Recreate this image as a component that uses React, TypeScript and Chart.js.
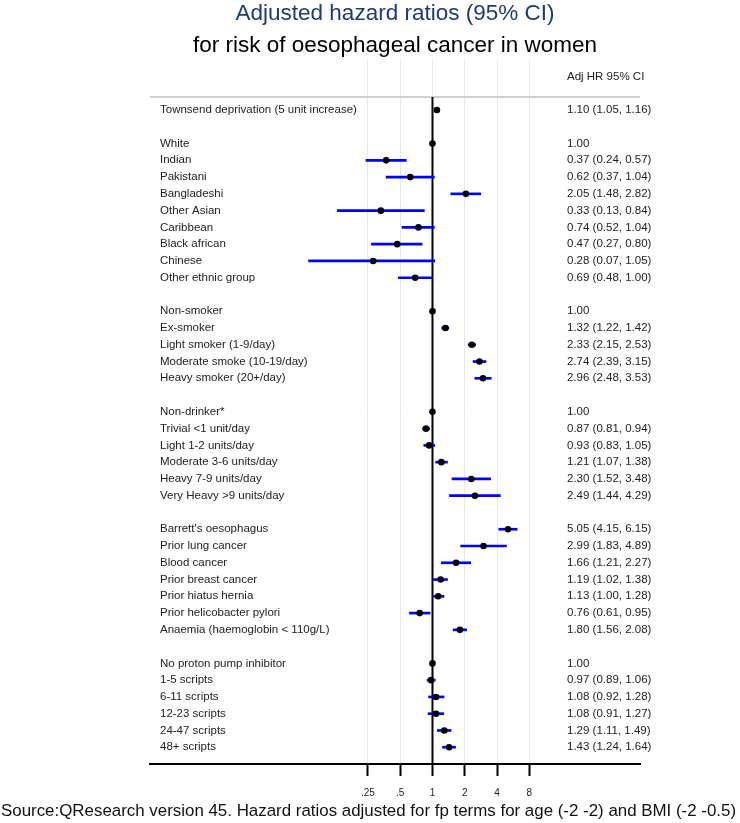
import { useEffect, useRef } from 'react';
import { Chart, registerables } from 'chart.js';

Chart.register(...registerables);

const TITLE_LINE_1 = 'Adjusted hazard ratios (95% CI)';
const TITLE_LINE_2 = 'for risk of oesophageal cancer in women';
const FOOTNOTE = 'Source:QResearch version 45. Hazard ratios adjusted for fp terms for age (-2 -2) and BMI (-2 -0.5)';
const COLUMN_HEADER = 'Adj HR 95% CI';

const categories: string[] = [
  'Townsend deprivation (5 unit increase)',
  '',
  'White',
  'Indian',
  'Pakistani',
  'Bangladeshi',
  'Other Asian',
  'Caribbean',
  'Black african',
  'Chinese',
  'Other ethnic group',
  '',
  'Non-smoker',
  'Ex-smoker',
  'Light smoker (1-9/day)',
  'Moderate smoke (10-19/day)',
  'Heavy smoker (20+/day)',
  '',
  'Non-drinker*',
  'Trivial <1 unit/day',
  'Light 1-2 units/day',
  'Moderate 3-6 units/day',
  'Heavy 7-9 units/day',
  'Very Heavy >9 units/day',
  '',
  "Barrett's oesophagus",
  'Prior lung cancer',
  'Blood cancer',
  'Prior breast cancer',
  'Prior hiatus hernia',
  'Prior helicobacter pylori',
  'Anaemia (haemoglobin < 110g/L)',
  '',
  'No proton pump inhibitor',
  '1-5 scripts',
  '6-11 scripts',
  '12-23 scripts',
  '24-47 scripts',
  '48+ scripts',
];

const hazardRatios: (number | null)[] = [
  1.10, null,
  1.00, 0.37, 0.62, 2.05, 0.33, 0.74, 0.47, 0.28, 0.69, null,
  1.00, 1.32, 2.33, 2.74, 2.96, null,
  1.00, 0.87, 0.93, 1.21, 2.30, 2.49, null,
  5.05, 2.99, 1.66, 1.19, 1.13, 0.76, 1.80, null,
  1.00, 0.97, 1.08, 1.08, 1.29, 1.43,
];

const ciLower: (number | null)[] = [
  1.05, null,
  null, 0.24, 0.37, 1.48, 0.13, 0.52, 0.27, 0.07, 0.48, null,
  null, 1.22, 2.15, 2.39, 2.48, null,
  null, 0.81, 0.83, 1.07, 1.52, 1.44, null,
  4.15, 1.83, 1.21, 1.02, 1.00, 0.61, 1.56, null,
  null, 0.89, 0.92, 0.91, 1.11, 1.24,
];

const ciUpper: (number | null)[] = [
  1.16, null,
  null, 0.57, 1.04, 2.82, 0.84, 1.04, 0.80, 1.05, 1.00, null,
  null, 1.42, 2.53, 3.15, 3.53, null,
  null, 0.94, 1.05, 1.38, 3.48, 4.29, null,
  6.15, 4.89, 2.27, 1.38, 1.28, 0.95, 2.08, null,
  null, 1.06, 1.28, 1.27, 1.49, 1.64,
];

const xTickValues = [0.25, 0.5, 1, 2, 4, 8];
const xTickLabels = ['.25', '.5', '1', '2', '4', '8'];

// axis geometry
const X_MIN = 0.00233;
const X_MAX = 85.9;
const Y_MIN = -2.983;
const Y_MAX = 39.0;
const HEADER_ROW = -2;
const TOP_RULE_ROW = -0.78;
const REFERENCE_HR = 1;

const FONT = "Arial, 'Liberation Sans', Helvetica, sans-serif";

function fmt(v: number) {
  return v.toFixed(2);
}

export default function App() {
  const ref = useRef<HTMLCanvasElement | null>(null);

  useEffect(() => {
    const canvas = ref.current;
    if (!canvas) return;

    const rows = categories.map((_, i) => i);
    const pointData = rows
      .filter((i) => hazardRatios[i] != null)
      .map((i) => ({ x: hazardRatios[i] as number, y: i }));
    const ciData = rows
      .filter((i) => ciLower[i] != null && ciUpper[i] != null)
      .map((i) => ({ x: [ciLower[i] as number, ciUpper[i] as number], y: i }));
    const rightLabels = rows.map((i) => {
      const hr = hazardRatios[i];
      if (hr == null) return '';
      const lo = ciLower[i];
      const hi = ciUpper[i];
      if (lo == null || hi == null) return fmt(hr);
      return `${fmt(hr)} (${fmt(lo)}, ${fmt(hi)})`;
    });
    const rightValues = [HEADER_ROW, ...rows];
    const rightTexts = [COLUMN_HEADER, ...rightLabels];

    const zeroPad = (s: any) => {
      s.paddingTop = 0;
      s.paddingBottom = 0;
      s.paddingLeft = 0;
      s.paddingRight = 0;
    };

    const chart = new Chart(canvas, {
      type: 'scatter',
      data: {
        datasets: [
          {
            type: 'scatter',
            label: 'HR',
            data: pointData,
            pointRadius: 3.3,
            pointBackgroundColor: '#000000',
            pointBorderWidth: 0,
            order: 0,
          } as any,
          {
            type: 'bar',
            label: 'CI',
            indexAxis: 'y',
            data: ciData,
            backgroundColor: '#0000ff',
            borderWidth: 0,
            barThickness: 2,
            order: 1,
          } as any,
          {
            type: 'line',
            label: 'ref',
            data: [
              { x: REFERENCE_HR, y: TOP_RULE_ROW },
              { x: REFERENCE_HR, y: Y_MAX },
            ],
            borderColor: '#000000',
            borderWidth: 2,
            pointRadius: 0,
            order: 2,
          } as any,
          {
            type: 'line',
            label: 'rule',
            data: [
              { x: X_MIN, y: TOP_RULE_ROW },
              { x: X_MAX, y: TOP_RULE_ROW },
            ],
            borderColor: '#cfcfcf',
            borderWidth: 2,
            pointRadius: 0,
            order: 3,
          } as any,
        ],
      },
      options: {
        animation: false,
        responsive: false,
        events: [],
        layout: { padding: { left: 150, right: 100, top: 60, bottom: 19 } },
        plugins: {
          legend: { display: false },
          tooltip: { enabled: false },
          title: { display: false },
        },
        scales: {
          x: {
            type: 'logarithmic',
            position: 'bottom',
            min: X_MIN,
            max: X_MAX,
            offset: false,
            afterBuildTicks: (s: any) => {
              s.ticks = xTickValues.map((v) => ({ value: v }));
            },
            afterFit: (s: any) => {
              s.height = 40;
              zeroPad(s);
            },
            ticks: {
              autoSkip: false,
              maxRotation: 0,
              padding: 11,
              color: '#222222',
              font: { family: FONT, size: 10 },
              callback: (_v: any, i: number) => xTickLabels[i],
            },
            grid: {
              color: '#e2eaf0',
              lineWidth: 1,
              offset: false,
              drawTicks: true,
              tickLength: 12,
              tickColor: '#000000',
              tickWidth: 2,
            },
            border: { display: true, color: '#000000', width: 2 },
          } as any,
          y: {
            type: 'linear',
            position: 'left',
            reverse: true,
            offset: false,
            min: Y_MIN,
            max: Y_MAX,
            afterBuildTicks: (s: any) => {
              s.ticks = rows.map((v) => ({ value: v }));
            },
            afterFit: (s: any) => {
              s.width = 0;
              zeroPad(s);
            },
            ticks: {
              mirror: true,
              crossAlign: 'near',
              padding: 10,
              autoSkip: false,
              color: '#222222',
              font: { family: FONT, size: 11.5 },
              callback: (_v: any, i: number) => categories[i],
            },
            grid: { display: false, drawTicks: false, offset: false },
            border: { display: false },
          } as any,
          y2: {
            type: 'linear',
            position: 'left',
            reverse: true,
            offset: false,
            min: Y_MIN,
            max: Y_MAX,
            afterBuildTicks: (s: any) => {
              s.ticks = rightValues.map((v) => ({ value: v }));
            },
            afterFit: (s: any) => {
              s.width = 0;
              zeroPad(s);
            },
            ticks: {
              mirror: true,
              crossAlign: 'near',
              padding: 417,
              autoSkip: false,
              color: '#222222',
              font: { family: FONT, size: 11.5 },
              callback: (_v: any, i: number) => rightTexts[i],
            },
            grid: { display: false, drawTicks: false, offset: false },
            border: { display: false },
          } as any,
        },
      } as any,
    });

    return () => chart.destroy();
  }, []);

  return (
    <div style={{ position: 'absolute', left: 0, top: 0, width: 740, height: 823, overflow: 'hidden', background: '#ffffff' }}>
      <canvas ref={ref} width={740} height={823} style={{ position: 'absolute', left: 0, top: 0, width: 740, height: 823 }} />
      <div
        style={{
          position: 'absolute',
          left: 50,
          width: 690,
          top: -3,
          textAlign: 'center',
          fontFamily: FONT,
          fontSize: 22.5,
          lineHeight: '32px',
          whiteSpace: 'nowrap',
        }}
      >
        <div style={{ color: '#1f3a70' }}>{TITLE_LINE_1}</div>
        <div style={{ color: '#000000' }}>{TITLE_LINE_2}</div>
      </div>
      <div
        style={{
          position: 'absolute',
          left: 1,
          top: 801,
          fontFamily: FONT,
          fontSize: 16.9,
          lineHeight: '20px',
          color: '#111111',
          whiteSpace: 'nowrap',
        }}
      >
        {FOOTNOTE}
      </div>
    </div>
  );
}
